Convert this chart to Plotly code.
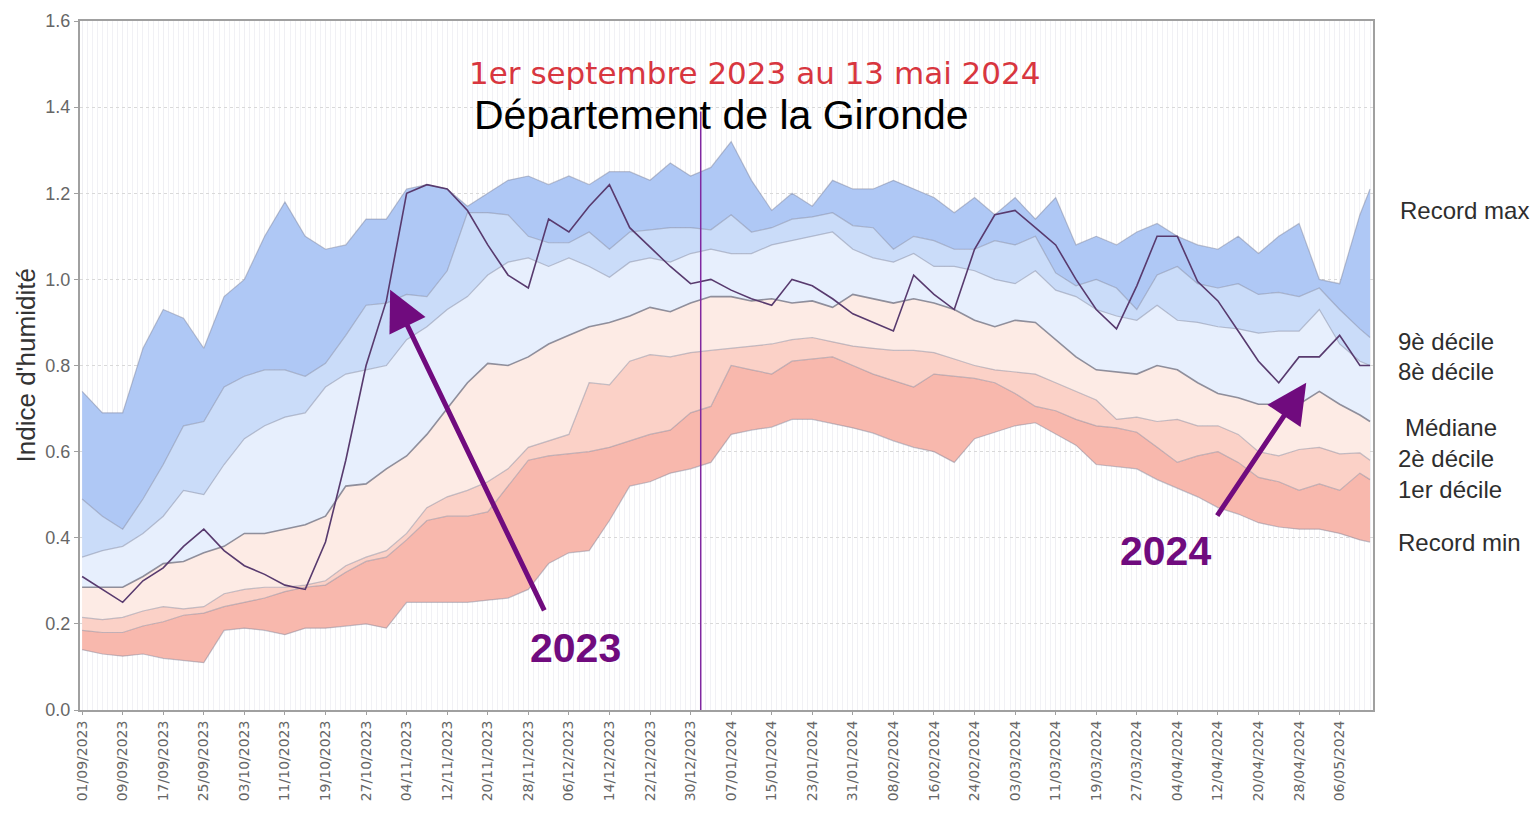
import pandas as pd
import plotly.graph_objects as go

# ---- data (sampled every 4 days from 01/09/2023, last point 12/05/2024) ----
dates = list(pd.date_range("2023-09-01", periods=64, freq="4D")) + [pd.Timestamp("2024-05-12")]
tick_dates = list(pd.date_range("2023-09-01", "2024-05-06", freq="8D"))

record_min = [0.14, 0.13, 0.125, 0.13, 0.12, 0.115, 0.11, 0.185, 0.19, 0.185, 0.175, 0.19, 0.19, 0.195, 0.20, 0.19,
              0.25, 0.25, 0.25, 0.25, 0.255, 0.26, 0.28, 0.34, 0.365, 0.37, 0.44, 0.52, 0.53, 0.55, 0.56, 0.575,
              0.64, 0.65, 0.657, 0.675, 0.675, 0.665, 0.655, 0.643, 0.625, 0.61, 0.60, 0.575, 0.63, 0.645, 0.66, 0.667,
              0.64, 0.615, 0.57, 0.565, 0.56, 0.535, 0.515, 0.495, 0.47, 0.455, 0.435, 0.425, 0.42, 0.42, 0.41, 0.395, 0.39]
decile_1 = [0.185, 0.18, 0.18, 0.195, 0.205, 0.22, 0.225, 0.24, 0.25, 0.26, 0.275, 0.285, 0.29, 0.32, 0.345, 0.355,
            0.395, 0.44, 0.45, 0.45, 0.46, 0.52, 0.58, 0.59, 0.595, 0.60, 0.61, 0.625, 0.64, 0.65, 0.69, 0.705,
            0.80, 0.79, 0.78, 0.81, 0.815, 0.82, 0.80, 0.78, 0.765, 0.75, 0.78, 0.775, 0.77, 0.76, 0.735, 0.705,
            0.695, 0.675, 0.66, 0.655, 0.645, 0.61, 0.575, 0.59, 0.60, 0.575, 0.54, 0.53, 0.51, 0.525, 0.51, 0.55, 0.535]
decile_2 = [0.215, 0.21, 0.215, 0.23, 0.24, 0.235, 0.24, 0.27, 0.28, 0.285, 0.285, 0.29, 0.30, 0.335, 0.355, 0.37,
            0.41, 0.47, 0.495, 0.51, 0.53, 0.56, 0.61, 0.625, 0.64, 0.76, 0.755, 0.81, 0.825, 0.82, 0.83, 0.835,
            0.84, 0.845, 0.85, 0.86, 0.865, 0.855, 0.845, 0.84, 0.835, 0.835, 0.83, 0.815, 0.80, 0.79, 0.785, 0.78,
            0.76, 0.74, 0.72, 0.675, 0.68, 0.67, 0.675, 0.66, 0.66, 0.64, 0.60, 0.59, 0.605, 0.61, 0.595, 0.597, 0.58]
median = [0.285, 0.285, 0.285, 0.31, 0.34, 0.345, 0.365, 0.38, 0.41, 0.41, 0.42, 0.43, 0.45, 0.52, 0.525, 0.56,
          0.59, 0.64, 0.70, 0.76, 0.805, 0.80, 0.82, 0.85, 0.87, 0.89, 0.90, 0.915, 0.935, 0.925, 0.945, 0.96,
          0.96, 0.95, 0.955, 0.945, 0.95, 0.935, 0.965, 0.955, 0.945, 0.955, 0.945, 0.93, 0.905, 0.89, 0.905, 0.90,
          0.86, 0.82, 0.79, 0.785, 0.78, 0.80, 0.79, 0.76, 0.735, 0.725, 0.71, 0.71, 0.71, 0.74, 0.71, 0.685, 0.67]
decile_8 = [0.355, 0.37, 0.38, 0.41, 0.45, 0.51, 0.50, 0.57, 0.63, 0.66, 0.68, 0.69, 0.75, 0.78, 0.79, 0.80,
            0.86, 0.89, 0.93, 0.96, 1.01, 1.04, 1.05, 1.03, 1.05, 1.03, 1.005, 1.04, 1.05, 1.04, 1.06, 1.07,
            1.06, 1.06, 1.08, 1.09, 1.10, 1.11, 1.07, 1.05, 1.04, 1.06, 1.03, 1.03, 1.02, 1.00, 0.99, 1.02,
            0.975, 0.96, 0.93, 0.915, 0.905, 0.94, 0.905, 0.90, 0.89, 0.885, 0.875, 0.88, 0.88, 0.93, 0.85, 0.81, 0.80]
decile_9 = [0.49, 0.45, 0.42, 0.49, 0.57, 0.66, 0.67, 0.75, 0.775, 0.79, 0.79, 0.775, 0.805, 0.87, 0.94, 0.945,
            0.965, 0.96, 1.02, 1.155, 1.155, 1.15, 1.10, 1.085, 1.085, 1.11, 1.07, 1.11, 1.115, 1.12, 1.12, 1.115,
            1.15, 1.11, 1.12, 1.14, 1.145, 1.155, 1.125, 1.12, 1.07, 1.10, 1.09, 1.07, 1.07, 1.09, 1.08, 1.10,
            1.015, 0.985, 1.00, 0.98, 0.93, 1.01, 1.03, 0.99, 0.98, 0.99, 0.965, 0.97, 0.96, 0.98, 0.93, 0.885, 0.865]
record_max = [0.74, 0.69, 0.69, 0.84, 0.93, 0.91, 0.84, 0.96, 1.00, 1.10, 1.18, 1.10, 1.07, 1.08, 1.14, 1.14,
              1.21, 1.22, 1.21, 1.17, 1.20, 1.23, 1.24, 1.22, 1.24, 1.22, 1.25, 1.25, 1.23, 1.27, 1.24, 1.26,
              1.32, 1.23, 1.16, 1.20, 1.17, 1.23, 1.21, 1.21, 1.23, 1.21, 1.19, 1.155, 1.19, 1.15, 1.19, 1.14,
              1.19, 1.08, 1.10, 1.08, 1.11, 1.13, 1.10, 1.08, 1.07, 1.10, 1.06, 1.10, 1.13, 1.00, 0.99, 1.15, 1.21]
season_2023_2024 = [0.31, 0.28, 0.25, 0.30, 0.33, 0.38, 0.42, 0.37, 0.335, 0.315, 0.29, 0.28, 0.39, 0.58, 0.80, 0.95,
                    1.20, 1.22, 1.21, 1.16, 1.08, 1.01, 0.98, 1.14, 1.11, 1.17, 1.22, 1.12, 1.075, 1.03, 0.99, 1.0,
                    0.975, 0.955, 0.94, 1.0, 0.985, 0.955, 0.92, 0.90, 0.88, 1.01, 0.965, 0.93, 1.07, 1.15, 1.16, 1.12,
                    1.08, 1.00, 0.93, 0.885, 0.985, 1.10, 1.10, 0.995, 0.95, 0.88, 0.81, 0.76, 0.82, 0.82, 0.87, 0.80, 0.80]

band_labels = ["Record max", "9è décile", "8è décile", "Médiane", "2è décile", "1er décile", "Record min"]
label_levels = [1.159, 0.855, 0.785, 0.655, 0.585, 0.511, 0.388]
label_x = [1.0193, 1.0178, 1.0178, 1.0232, 1.0178, 1.0178, 1.0178]

# ---- style ----
FONT = "Liberation Sans"
edge = "rgba(125,128,150,0.45)"
bands = [
    (decile_1, "#f8b8ad", edge, 1.2),
    (decile_2, "#fbd1c7", edge, 1.2),
    (median, "#fdebe5", "rgba(110,110,125,0.75)", 1.6),
    (decile_8, "#e7effd", edge, 1.2),
    (decile_9, "#cadcf9", edge, 1.2),
    (record_max, "#afc8f5", edge, 1.2),
]
purple = "#700b7e"

fig = go.Figure()
fig.add_trace(go.Scatter(x=dates, y=record_min, mode="lines", line=dict(color=edge, width=1.2),
                         hoverinfo="skip", showlegend=False))
for series, fcol, lcol, lw in bands:
    fig.add_trace(go.Scatter(x=dates, y=series, mode="lines", fill="tonexty", fillcolor=fcol,
                             line=dict(color=lcol, width=lw), hoverinfo="skip", showlegend=False))
fig.add_trace(go.Scatter(x=dates, y=season_2023_2024, mode="lines",
                         line=dict(color="rgb(88,58,110)", width=1.6), showlegend=False))

fig.add_shape(type="line", xref="x", yref="y", x0="2024-01-01", x1="2024-01-01", y0=0, y1=1.39,
              line=dict(color="rgb(128,40,160)", width=1.5))

ann = []
ann.append(dict(text="1er septembre 2023 au 13 mai 2024", xref="paper", yref="y", x=0.522, y=1.48,
                showarrow=False, font=dict(family="DejaVu Sans", size=31, color="#d8363f")))
ann.append(dict(text="Département de la Gironde", xref="paper", yref="y", x=0.4965, y=1.382,
                showarrow=False, font=dict(family=FONT, size=41, color="#000000")))
ann.append(dict(text="Indice d'humidité", xref="paper", yref="y", x=-0.0418, y=0.80, textangle=-90,
                xanchor="center", yanchor="middle",
                showarrow=False, font=dict(family=FONT, size=26, color="#333333")))
for t, lv, lx in zip(band_labels, label_levels, label_x):
    ann.append(dict(text=t, xref="paper", yref="y", x=lx, y=lv, xanchor="left", showarrow=False,
                    font=dict(family=FONT, size=24, color="#2e2e2e")))
# arrows + year labels
ann.append(dict(text="", x="2023-10-31 18:00", y=0.976, ax="2023-12-01 07:00", ay=0.228,
                xref="x", yref="y", axref="x", ayref="y", showarrow=True, arrowhead=2,
                arrowsize=1.6, arrowwidth=5, arrowcolor=purple, standoff=0))
ann.append(dict(text="", x="2024-04-29 10:00", y=0.76, ax="2024-04-11 16:00", ay=0.448,
                xref="x", yref="y", axref="x", ayref="y", showarrow=True, arrowhead=2,
                arrowsize=1.6, arrowwidth=5, arrowcolor=purple, standoff=0))
ann.append(dict(text="<b>2023</b>", x="2023-12-07 06:00", y=0.144, xref="x", yref="y", showarrow=False,
                font=dict(family=FONT, size=41, color=purple)))
ann.append(dict(text="<b>2024</b>", x="2024-04-01 14:00", y=0.369, xref="x", yref="y", showarrow=False,
                font=dict(family=FONT, size=41, color=purple)))

fig.update_layout(
    width=1522, height=797,
    margin=dict(l=72, r=157, t=13, b=95, autoexpand=False),
    paper_bgcolor="white", plot_bgcolor="white",
    font=dict(family=FONT, color="#555555"),
    showlegend=False,
    annotations=ann,
    xaxis=dict(
        automargin=False,
        range=["2023-08-31 14:00", "2024-05-12 14:00"],
        tickvals=tick_dates, tickformat="%d/%m/%Y", tickangle=-90,
        tickfont=dict(family="DejaVu Sans", size=14, color="#666666"),
        showgrid=True, gridcolor="#efeff3", gridwidth=1,
        minor=dict(dtick=86400000, showgrid=True, gridcolor="#f1f1f5", gridwidth=1),
        showline=True, linecolor="#a0a0a0", linewidth=2, mirror=True,
        ticks="outside", ticklen=3, tickcolor="#a0a0a0", zeroline=False,
    ),
    yaxis=dict(
        automargin=False,
        range=[0, 1.6], tickvals=[0, 0.2, 0.4, 0.6, 0.8, 1.0, 1.2, 1.4, 1.6], tickformat=".1f",
        tickfont=dict(family=FONT, size=18, color="#666666"),
        showgrid=True, gridcolor="#d9d9d9", griddash="dot", gridwidth=1,
        showline=True, linecolor="#a0a0a0", linewidth=2, mirror=True,
        ticks="outside", ticklen=4, tickcolor="#a0a0a0", zeroline=False,
    ),
)

fig.write_html("out.html")
